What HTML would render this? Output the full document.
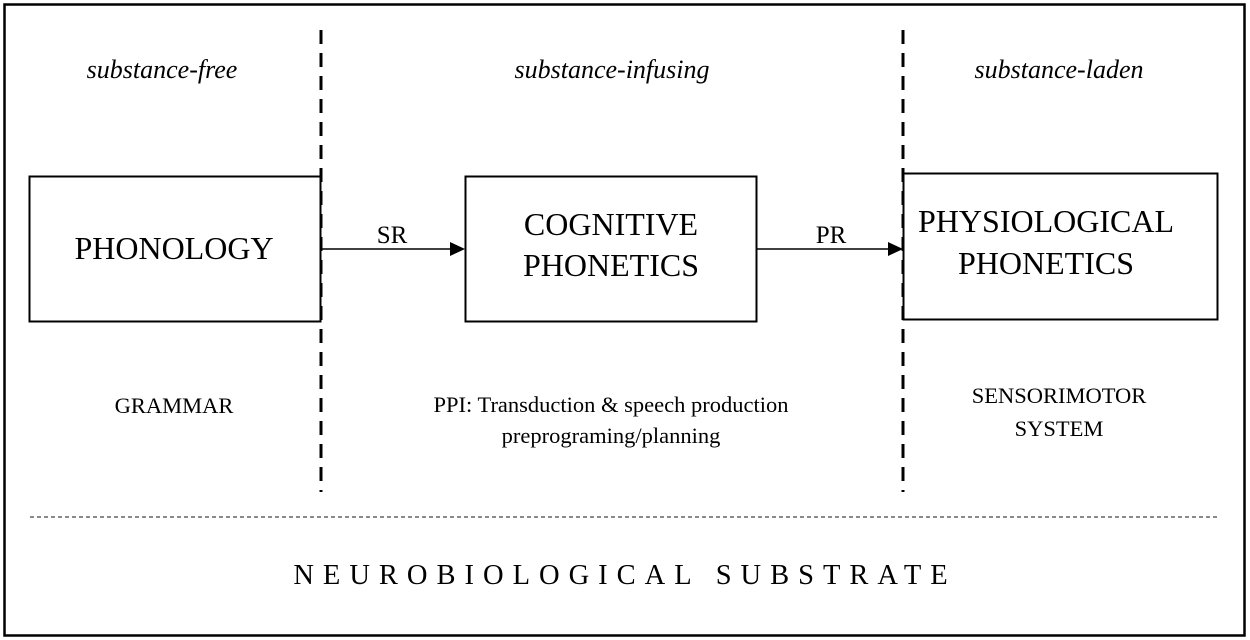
<!DOCTYPE html>
<html><head><style>body{margin:0;background:#fff}svg{display:block}text{font-family:"Liberation Serif",serif;fill:#000}</style></head><body>
<svg width="1250" height="640" viewBox="0 0 1250 640">
<rect x="4.5" y="4.5" width="1240" height="631" fill="none" stroke="#000" stroke-width="2.5"/>
<line x1="321" y1="30" x2="321" y2="492" stroke="#000" stroke-width="3" stroke-dasharray="14,9"/>
<line x1="903" y1="30" x2="903" y2="492" stroke="#000" stroke-width="3" stroke-dasharray="14,9"/>
<rect x="29.5" y="176.5" width="291" height="145" fill="none" stroke="#000" stroke-width="2"/>
<rect x="465.5" y="176.5" width="291" height="145" fill="none" stroke="#000" stroke-width="2"/>
<rect x="903.5" y="173.5" width="314" height="146" fill="none" stroke="#000" stroke-width="2"/>
<line x1="321" y1="249" x2="450" y2="249" stroke="#000" stroke-width="1.5"/>
<polygon points="465,249 450,242 450,256" fill="#000"/>
<line x1="757" y1="249" x2="888" y2="249" stroke="#000" stroke-width="1.5"/>
<polygon points="903,249 888,242 888,256" fill="#000"/>
<line x1="30" y1="517" x2="1218" y2="517" stroke="#444" stroke-width="1.2" stroke-dasharray="4,3"/>
<g font-style="italic" font-size="26" text-anchor="middle">
<text x="162" y="78">substance-free</text>
<text x="612" y="78">substance-infusing</text>
<text x="1059" y="78">substance-laden</text>
</g>
<g font-size="32" text-anchor="middle">
<text x="174" y="259">PHONOLOGY</text>
<text x="611" y="235">COGNITIVE</text>
<text x="611" y="276">PHONETICS</text>
<text x="1046" y="232">PHYSIOLOGICAL</text>
<text x="1046" y="274">PHONETICS</text>
</g>
<g font-size="25" text-anchor="middle">
<text x="392" y="243">SR</text>
<text x="831" y="243">PR</text>
</g>
<g font-size="22.5" text-anchor="middle">
<text x="174" y="413">GRAMMAR</text>
<text x="611" y="412">PPI: Transduction &amp; speech production</text>
<text x="611" y="443">preprograming/planning</text>
<text x="1059" y="403">SENSORIMOTOR</text>
<text x="1059" y="436">SYSTEM</text>
</g>
<text x="625" y="584" font-size="28.5" text-anchor="middle" letter-spacing="9">NEUROBIOLOGICAL SUBSTRATE</text>
</svg>
</body></html>
